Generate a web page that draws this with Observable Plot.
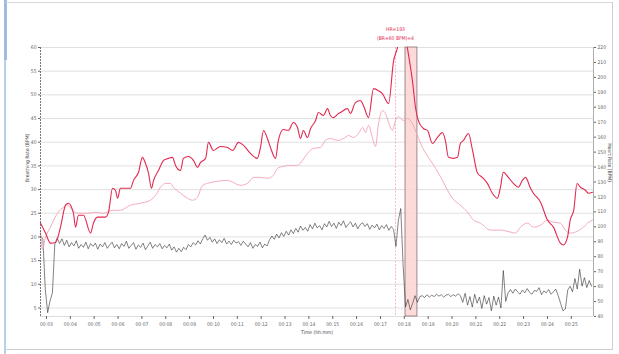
<!DOCTYPE html>
<html>
<head>
<meta charset="utf-8">
<script src="https://cdn.jsdelivr.net/npm/d3@7"></script>
<script src="https://cdn.jsdelivr.net/npm/@observablehq/plot@0.6"></script>
<style>
  html, body { margin: 0; padding: 0; background: #fff; }
  #wrap { position: relative; width: 619px; height: 354px; overflow: hidden; }
  .edge { position: absolute; pointer-events: none; }
</style>
</head>
<body>
<div id="wrap">
  <div id="chart"></div>
  <div class="edge" style="left:4px;top:0;width:2px;height:354px;background:#b7cfe9"></div>
  <div class="edge" style="left:4px;top:0;width:3px;height:60px;background:#9fbde0"></div>
  <div class="edge" style="left:6px;top:2px;width:607px;height:1px;background:#d9d9d9"></div>
  <div class="edge" style="left:612px;top:2px;width:1px;height:348px;background:#cfcfcf"></div>
  <div class="edge" style="left:6px;top:349px;width:607px;height:1px;background:#cfcfcf"></div>
</div>
<script>
// ---- axis tick values ----
const xTicks = [3,4,5,6,7,8,9,10,11,12,13,14,15,16,17,18,19,20,21,22,23,24,25];
const brTicks = [5,10,15,20,25,30,35,40,45,50,55,60];
const hrTicks = [40,50,60,70,80,90,100,110,120,130,140,150,160,170,180,190,200,210,220];

// ---- labels ----
const xTitle = "Time (hh:mm)";
const brTitle = "Breathing Rate (BPM)";
const hrTitle = "Heart Rate (BPM)";
const markerTop = "HR=193";
const markerBottom = "(BR=60 BPM)=4";

// ---- event marker & highlighted interval (minutes) ----
const markerTime = [17.63];
const highlight = [{start: 18.05, end: 18.55}];

// ---- heart rate (crimson), minutes / bpm ----
const hrTimes = [2.75,2.96,3.17,3.38,3.59,3.80,3.92,4.13,4.22,4.34,4.55,4.85,4.97,5.14,5.47,5.60,5.77,5.89,5.98,6.10,6.52,6.65,6.86,7.02,7.15,7.28,7.40,7.49,7.70,7.91,8.11,8.28,8.41,8.62,8.74,8.95,9.16,9.33,9.46,9.67,9.79,10.00,10.29,10.59,10.80,11.05,11.26,11.55,11.84,11.97,12.10,12.26,12.39,12.60,12.72,12.93,13.14,13.35,13.52,13.65,13.77,13.94,14.07,14.28,14.40,14.61,14.78,14.90,15.03,15.24,15.32,15.62,15.74,15.95,16.16,16.29,16.50,16.71,16.92,17.08,17.34,17.55,17.71,17.88,18.05,18.13,18.34,18.47,18.59,18.80,18.97,19.18,19.39,19.60,19.72,19.85,20.06,20.23,20.35,20.48,20.69,20.86,21.07,21.27,21.48,21.69,21.90,22.03,22.15,22.36,22.57,22.78,22.95,23.08,23.29,23.41,23.71,24.00,24.25,24.54,24.67,24.84,24.96,25.10,25.24,25.38,25.59,25.72,25.89];
const hrValues = [102.5,95.8,89.1,89.5,100,114.5,115.8,109.1,99.8,107.8,107.8,95.8,102.5,106.5,106.5,109.8,125.8,124.5,119.1,125.8,125.8,131.1,136.5,146.5,142.5,135.8,125.8,131.1,137.8,144.5,145.8,146.5,141.1,137.8,145.8,147.1,144.5,139.8,143.1,145.8,156.5,151.1,153.8,153.1,151.1,156.5,154.5,149.1,145.8,153.1,164.5,159.1,153.1,145.8,157.8,165.1,164.5,169.8,166.5,159.1,164.5,159.8,165.8,171.1,176.5,174.5,179.1,174.5,173.1,175.8,176.5,179.1,175.8,183.1,184.5,181.1,173.1,192.5,191.1,189.1,182.5,211.1,219.8,235,228,219.8,197.8,179.8,171.1,165.8,164.5,155.8,159.8,163.1,157.8,146.5,145.8,146.5,155.8,157.8,162.5,151.1,135.8,133.1,129.1,122.5,119.1,126.5,136.5,133.1,129.1,126.5,131.1,133.1,125.8,122.5,116.5,104.5,99.8,89.1,87.8,93.1,105,111,129,126.5,124.5,122.5,123.1];

// ---- smoothed heart rate (light pink), minutes / bpm ----
const hrSmoothTimes = [2.75,2.83,2.96,3.17,3.30,3.50,3.71,3.88,4.09,4.30,4.72,5.05,5.39,5.77,6.10,6.52,6.94,7.36,7.57,7.78,7.99,8.20,8.32,8.62,8.91,9.12,9.33,9.54,9.75,10.17,10.59,11.13,11.43,11.68,11.97,12.26,12.51,12.68,12.93,13.23,13.52,13.73,13.94,14.19,14.49,14.69,14.90,15.20,15.45,15.66,15.87,16.08,16.25,16.37,16.50,16.66,16.79,16.92,17.08,17.21,17.34,17.50,17.63,17.75,17.96,18.13,18.34,18.55,18.76,19.01,19.31,19.60,19.81,20.02,20.35,20.65,20.90,21.19,21.61,22.03,22.45,22.66,22.87,23.16,23.41,23.71,24.00,24.25,24.54,24.75,24.96,25.26,25.51,25.68,25.89];
const hrSmoothValues = [97,85,93.1,99.8,104.5,109.8,113.1,114.5,111.1,109.1,109.1,109.8,109.1,111.1,111.1,114.5,115.8,117.8,121.1,126.5,129.1,129.1,126.5,122.5,119.1,117.8,119.8,127.8,129.1,130.5,131.1,127.8,129.1,133.1,133.1,132.5,134.5,139.1,140.5,141.1,141.1,144.5,149.1,152.5,153.1,157.8,159.1,157.8,159.1,161.1,159.8,162.5,166.5,163.1,167.8,159.8,153.8,169.1,177.8,175.8,169.8,164.5,171.1,173.8,171.1,172.5,169.1,161.1,153.1,146.5,139.1,131.1,124.5,119.1,114.5,109.8,104.5,102.5,97.8,97.8,96.5,95.8,99.8,102.5,99.8,101.1,104.5,103.1,102.5,97.8,95.8,97.1,99.8,102.5,104.5];

// ---- breathing rate (black), one reading every 0.1 min from 2.75 ----
const brStart = 2.75;
const brStep = 0.1;
const brValues = [20.3,19.5,9.0,4.0,6.5,8.2,18.5,19.8,18.6,19.6,18.2,19.3,17.9,18.8,18.1,19.2,17.6,18.4,17.8,18.9,
17.5,18.6,18.0,18.7,17.4,18.5,17.9,18.8,17.6,18.3,18.9,17.7,18.4,17.5,18.6,18.0,19.1,17.6,18.2,18.8,
17.4,18.3,17.8,18.7,17.3,18.1,18.9,17.6,18.4,17.9,18.6,17.5,18.2,17.7,18.5,17.2,17.9,16.8,17.6,16.9,
17.8,17.3,18.4,17.9,18.8,18.3,19.2,18.5,19.6,20.4,19.3,19.9,18.9,19.6,18.6,19.4,18.8,19.7,18.5,19.1,
18.4,19.3,18.7,19.0,18.2,19.1,18.5,17.9,18.8,17.6,18.4,18.0,18.9,17.7,18.5,18.1,19.4,20.2,19.5,20.6,
19.8,20.9,20.1,21.2,20.4,21.5,20.7,21.8,21.0,22.3,21.4,22.0,21.2,22.6,21.7,22.9,21.9,22.4,21.5,22.8,
22.1,23.3,22.2,22.9,21.8,23.1,22.4,23.4,22.0,22.7,23.2,22.1,22.9,21.7,22.6,23.0,22.2,22.8,21.6,22.5,
21.9,22.7,21.5,22.4,21.8,22.6,21.4,22.2,21.6,18.0,23.5,26.0,14.0,5.2,6.8,4.6,6.0,7.6,6.2,7.4,
7.6,7.2,7.8,7.3,7.7,7.4,7.9,7.5,7.8,7.3,7.7,7.9,7.4,7.8,7.5,8.0,7.6,6.2,8.1,5.6,
7.4,5.2,7.9,6.0,7.3,4.9,7.6,5.8,7.2,4.4,7.5,5.6,7.3,5.0,12.9,6.4,8.2,8.9,8.1,9.0,
8.4,7.9,8.8,8.2,9.1,8.3,7.9,8.7,8.5,9.3,7.8,8.6,8.2,8.9,7.9,8.4,9.0,7.6,6.0,4.4,
4.8,8.8,9.6,8.4,11.2,9.0,13.2,9.6,11.4,9.3,10.8,9.6];

// ---- scales: heart rate is drawn against the breathing-rate axis ----
const xDomain = [2.75, 25.93];
const brDomain = [3.2, 60];
const hrDomain = [40, 220];
const hrToBr = d3.scaleLinear().domain(hrDomain).range(brDomain);

const hrData = hrTimes.map((t, i) => ({t, v: hrToBr(hrValues[i])}));
const hrSmoothData = hrSmoothTimes.map((t, i) => ({t, v: hrToBr(hrSmoothValues[i])}));
const brData = brValues.map((v, i) => ({t: brStart + i * brStep, v}));

const pad = n => String(n).padStart(2, "0");
const fs = 5;
const tickColor = "#666";
const font = "'Liberation Sans Narrow', 'DejaVu Sans Condensed', 'Liberation Sans', Arial, sans-serif";

const chart = Plot.plot({
  width: 619,
  height: 354,
  marginLeft: 40,
  marginRight: 26,
  marginTop: 47,
  marginBottom: 38,
  style: {background: "transparent", fontFamily: font},
  x: {domain: xDomain, axis: null},
  y: {domain: brDomain, axis: null},
  marks: [
    Plot.ruleY(brTicks, {stroke: "#dcdcdc", strokeWidth: 0.9}),
    Plot.ruleY([brDomain[0]], {stroke: "#d4d4d4", strokeWidth: 0.8}),
    Plot.rect(highlight, {x1: "start", x2: "end", y1: brDomain[0], y2: brDomain[1], fill: "#fbd3d3", fillOpacity: 0.85, stroke: "#8a7070", strokeWidth: 0.8}),
    Plot.ruleX(markerTime, {stroke: "#f08aa0", strokeWidth: 0.6, strokeDasharray: "2,1.5"}),
    Plot.line(brData, {x: "t", y: "v", stroke: "#2f2f2f", strokeWidth: 0.6, clip: true}),
    Plot.line(hrSmoothData, {x: "t", y: "v", stroke: "#f2a3b4", strokeWidth: 0.9, curve: "monotone-x", clip: true}),
    Plot.line(hrData, {x: "t", y: "v", stroke: "#e2284f", strokeWidth: 1.1, curve: "monotone-x", clip: true}),
    // left axis (breathing rate)
    Plot.ruleX([xDomain[0]], {stroke: "#555", strokeWidth: 0.8, strokeDasharray: "2,1"}),
    Plot.axisY(brTicks, {anchor: "left", tickSize: 2, tickPadding: 2, fontSize: fs, stroke: tickColor, color: tickColor, label: null}),
    Plot.text([brTitle], {frameAnchor: "left", dx: -13, rotate: -90, fontSize: fs, fill: "#444"}),
    // right axis (heart rate)
    Plot.ruleX([xDomain[1]], {stroke: "#999", strokeWidth: 0.8}),
    Plot.axisY(hrTicks.map(hrToBr), {anchor: "right", tickSize: 2, tickPadding: 2, fontSize: fs, stroke: tickColor, color: tickColor, label: null, tickFormat: d => Math.round(hrToBr.invert(d))}),
    Plot.text([hrTitle], {frameAnchor: "right", dx: 16, rotate: 90, fontSize: fs, fill: "#444"}),
    // bottom axis (time)
    Plot.axisX(xTicks, {anchor: "bottom", tickSize: 3, tickPadding: 3, fontSize: fs, stroke: tickColor, color: tickColor, label: null, tickFormat: d => "00:" + pad(d)}),
    Plot.text([xTitle], {frameAnchor: "bottom", dy: 17, fontSize: fs, fill: "#444"}),
    // event labels
    Plot.text(markerTime, {x: d => d, frameAnchor: "top", dy: -20, text: () => markerTop, fontSize: fs, fill: "#e2284f"}),
    Plot.text(markerTime, {x: d => d, frameAnchor: "top", dy: -11, text: () => markerBottom, fontSize: fs, fill: "#e2284f"})
  ]
});
document.getElementById("chart").appendChild(chart);
</script>
</body>
</html>
